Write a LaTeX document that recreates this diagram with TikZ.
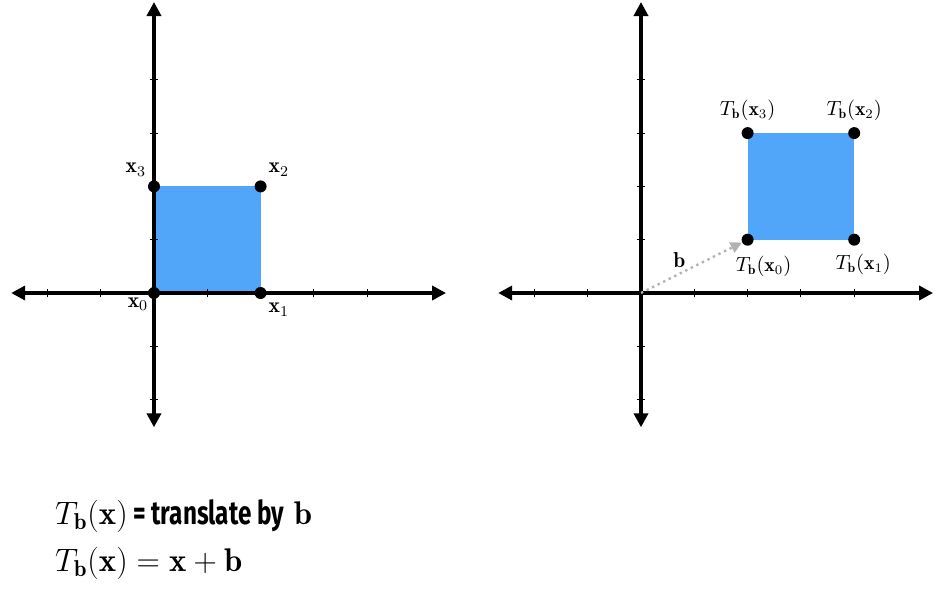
\documentclass[tikz,border=0pt]{standalone}
\usepackage{amsmath}
\usepackage{fontspec}
\newfontfamily\condsans[FakeStretch=0.74]{Fira Sans}
\usetikzlibrary{positioning,arrows.meta}
\definecolor{sqblue}{HTML}{52A6F9}
\tikzset{
  axis/.style={line width=2.6pt,{Triangle[length=7.5pt,width=7.5pt]}-{Triangle[length=7.5pt,width=7.5pt]}},
  tickmark/.style={line width=0.6pt},
  dot/.style={circle,fill=black,inner sep=0pt,minimum size=6.4pt},
  lab/.style={inner sep=0pt,font=\fontsize{11.5}{13}\selectfont},
  tlab/.style={inner sep=0pt,font=\fontsize{10.5}{12}\selectfont},
  eqn/.style={inner sep=0pt,anchor=base west,font=\fontsize{17.5}{21}\selectfont},
}
\begin{document}
\begin{tikzpicture}
  \useasboundingbox (-2.889,-5.591) rectangle (14.784,5.497);
  % left plot
  \fill[sqblue] (0,0) rectangle (2,2);
  \foreach \t in {-2,-1,1,3,4} {
    \draw[tickmark] (\t,-0.08) -- (\t,0.08);
  }
  \foreach \t in {-2,-1,1,3,4} {
    \draw[tickmark] (-0.08,\t) -- (0.08,\t);
  }
  \coordinate (lxl) at (-2.68,0);
  \coordinate (lxr) at (5.48,0);
  \coordinate (lyb) at (0,-2.52);
  \coordinate (lyt) at (0,5.46);
  \draw[axis] (lxl) -- (lxr);
  \draw[axis] (lyb) -- (lyt);
  \node[dot] (p0) at (0,0) {};
  \node[dot] (p1) at (2,0) {};
  \node[dot] (p2) at (2,2) {};
  \node[dot] (p3) at (0,2) {};
  \node[lab,below left=0.0cm and 0.02cm of p0] {$\mathbf{x}_0$};
  \node[lab,below right=0.1cm and 0.06cm of p1] {$\mathbf{x}_1$};
  \node[lab,above right=0.1cm and 0.06cm of p2] {$\mathbf{x}_2$};
  \node[lab,above left=0.1cm and 0.06cm of p3] {$\mathbf{x}_3$};
  % right plot
  \begin{scope}[xshift=9.137cm]
    \fill[sqblue] (2,1) rectangle (4,3);
    \foreach \t in {-2,-1,1,2,3,4} {
      \draw[tickmark] (\t,-0.08) -- (\t,0.08);
    }
    \foreach \t in {-2,-1,1,2,3,4} {
      \draw[tickmark] (-0.08,\t) -- (0.08,\t);
    }
    \coordinate (rxl) at (-2.68,0);
    \coordinate (rxr) at (5.48,0);
    \coordinate (ryb) at (0,-2.52);
    \coordinate (ryt) at (0,5.46);
    \coordinate (o) at (0,0);
    \draw[axis] (rxl) -- (rxr);
    \draw[axis] (ryb) -- (ryt);
    \node[dot] (q0) at (2,1) {};
    \node[dot] (q1) at (4,1) {};
    \node[dot] (q2) at (4,3) {};
    \node[dot] (q3) at (2,3) {};
    \draw[gray!60,line width=1.3pt,dotted,-{Triangle[length=6pt,width=6pt]}] (o) -- (q0);
    \node[lab] (b) at (0.72,0.62) {$\mathbf{b}$};
    \node[tlab,below=0.18cm of q0,xshift=0.3cm] {$T_{\mathbf{b}}(\mathbf{x}_0)$};
    \node[tlab,below=0.15cm of q1,xshift=0.17cm] {$T_{\mathbf{b}}(\mathbf{x}_1)$};
    \node[tlab,above=0.1cm of q2] {$T_{\mathbf{b}}(\mathbf{x}_2)$};
    \node[tlab,above=0.1cm of q3] {$T_{\mathbf{b}}(\mathbf{x}_3)$};
  \end{scope}
  % equations
  \node[eqn] (e1) at (-1.86,-4.34) {$T_{\mathbf{b}}(\mathbf{x})$\,{\condsans\bfseries= translate by} $\mathbf{b}$};
  \node[eqn,below=0.88cm of e1.base west,anchor=base west] (e2) {$T_{\mathbf{b}}(\mathbf{x}) = \mathbf{x} + \mathbf{b}$};
\end{tikzpicture}
\end{document}
